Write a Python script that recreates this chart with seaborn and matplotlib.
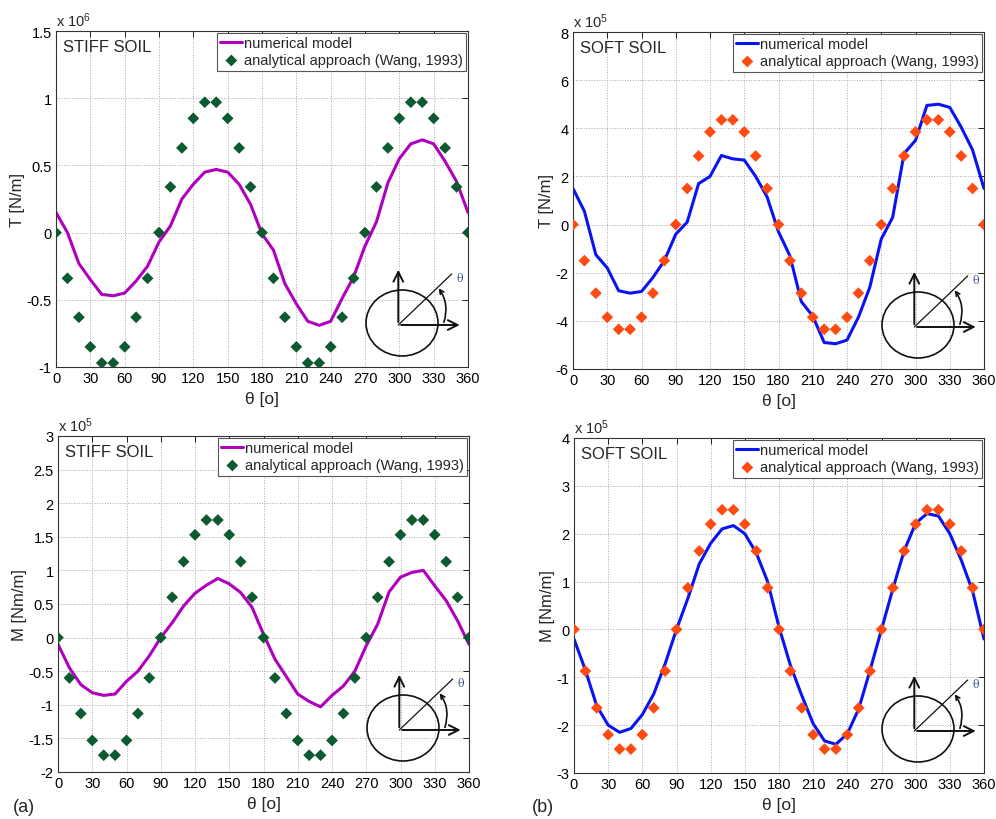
import matplotlib
matplotlib.use('Agg')
import matplotlib.pyplot as plt
import matplotlib.ticker as mticker
from matplotlib.patches import Ellipse, FancyArrowPatch
import seaborn as sns

# ------------------------ data ------------------------ #
theta = [0, 10, 20, 30, 40, 50, 60, 70, 80, 90, 100, 110, 120, 130, 140, 150, 160, 170, 180,
         190, 200, 210, 220, 230, 240, 250, 260, 270, 280, 290, 300, 310, 320, 330, 340, 350, 360]

# stiff soil, thrust T  (x 10^6 N/m)
stiff_T_num = [0.15, 0.0, -0.23, -0.35, -0.46, -0.47, -0.45, -0.36, -0.25, -0.07,
               0.05, 0.25, 0.36, 0.45, 0.47, 0.45, 0.36, 0.21, -0.01, -0.13,
               -0.38, -0.53, -0.66, -0.69, -0.66, -0.49, -0.33, -0.10, 0.08, 0.37,
               0.55, 0.66, 0.69, 0.66, 0.53, 0.38, 0.15]
stiff_T_ana = [0, -0.34, -0.63, -0.85, -0.97, -0.97, -0.85, -0.63, -0.34, 0,
               0.34, 0.63, 0.85, 0.97, 0.97, 0.85, 0.63, 0.34, 0,
               -0.34, -0.63, -0.85, -0.97, -0.97, -0.85, -0.63, -0.34, 0,
               0.34, 0.63, 0.85, 0.97, 0.97, 0.85, 0.63, 0.34, 0]

# soft soil, thrust T  (x 10^5 N/m)
soft_T_num = [1.5, 0.55, -1.25, -1.8, -2.75, -2.85, -2.78, -2.2, -1.5, -0.4,
              0.1, 1.7, 2.0, 2.87, 2.73, 2.68, 2.0, 1.15, -0.3, -1.3,
              -3.2, -3.8, -4.9, -4.95, -4.8, -3.85, -2.6, -0.6, 0.3, 2.95,
              3.5, 4.95, 5.0, 4.87, 4.05, 3.1, 1.5]
soft_T_ana = [0, -1.5, -2.85, -3.85, -4.35, -4.35, -3.85, -2.85, -1.5, 0,
              1.5, 2.85, 3.85, 4.35, 4.35, 3.85, 2.85, 1.5, 0,
              -1.5, -2.85, -3.85, -4.35, -4.35, -3.85, -2.85, -1.5, 0,
              1.5, 2.85, 3.85, 4.35, 4.35, 3.85, 2.85, 1.5, 0]

# stiff soil, moment M  (x 10^5 Nm/m)
stiff_M_num = [-0.1, -0.45, -0.7, -0.82, -0.86, -0.84, -0.65, -0.5, -0.27, 0.0,
               0.22, 0.47, 0.66, 0.78, 0.88, 0.8, 0.67, 0.45, 0.05, -0.32,
               -0.58, -0.84, -0.95, -1.03, -0.86, -0.72, -0.5, -0.12, 0.2, 0.68,
               0.9, 0.97, 1.0, 0.77, 0.55, 0.25, -0.1]
stiff_M_ana = [0, -0.6, -1.13, -1.53, -1.75, -1.75, -1.53, -1.13, -0.6, 0,
               0.6, 1.13, 1.53, 1.75, 1.75, 1.53, 1.13, 0.6, 0,
               -0.6, -1.13, -1.53, -1.75, -1.75, -1.53, -1.13, -0.6, 0,
               0.6, 1.13, 1.53, 1.75, 1.75, 1.53, 1.13, 0.6, 0]

# soft soil, moment M  (x 10^5 Nm/m)
soft_M_num = [-0.2, -0.85, -1.6, -2.0, -2.15, -2.07, -1.78, -1.35, -0.72, 0.0,
              0.65, 1.37, 1.8, 2.1, 2.17, 2.0, 1.6, 1.0, 0.05, -0.75,
              -1.38, -1.97, -2.33, -2.4, -2.18, -1.66, -0.85, 0.0, 0.85, 1.65,
              2.22, 2.42, 2.37, 2.0, 1.45, 0.8, -0.2]
soft_M_ana = [0, -0.87, -1.64, -2.2, -2.5, -2.5, -2.2, -1.64, -0.87, 0,
              0.87, 1.64, 2.2, 2.5, 2.5, 2.2, 1.64, 0.87, 0,
              -0.87, -1.64, -2.2, -2.5, -2.5, -2.2, -1.64, -0.87, 0,
              0.87, 1.64, 2.2, 2.5, 2.5, 2.2, 1.64, 0.87, 0]

x_ticks = [0, 30, 60, 90, 120, 150, 180, 210, 240, 270, 300, 330, 360]

# ------------------------ style ------------------------ #
sns.set_style('white')
plt.rcParams['font.family'] = ['Liberation Sans', 'DejaVu Sans']
plt.rcParams['mathtext.fontset'] = 'custom'
plt.rcParams['mathtext.rm'] = 'Liberation Sans'
plt.rcParams['mathtext.it'] = 'Liberation Sans:italic'
plt.rcParams['axes.unicode_minus'] = False

MAGENTA = '#b000bf'
GREEN = '#0d5a30'
BLUE = '#0a14f2'
ORANGE = '#ff4a12'

W, H = 996, 820
fig = plt.figure(figsize=(W / 100, H / 100), dpi=100)


def px_axes(left, top, right, bottom):
    return fig.add_axes([left / W, 1 - bottom / H, (right - left) / W, (bottom - top) / H])


def draw_inset(ax):
    # little sketch of the tunnel section with the angle theta
    x0, y0, w, h = ax.get_position().bounds
    right_px = (x0 + w) * W
    bottom_px = (1 - y0) * H
    left = right_px - 113
    top = bottom_px - 113
    ins = fig.add_axes([left / W, 1 - (top + 115) / H, 120 / W, 115 / H])
    ins.set_xlim(0, 120)
    ins.set_ylim(115, 0)
    ins.axis('off')
    ins.patch.set_alpha(0)
    ox, oy = 43.3, 71
    ins.add_patch(Ellipse((47, 69), 72, 66, fill=False, lw=1.2, color='#111111'))
    for end in [(43.3, 13.0), (107.5, 71)]:
        ins.annotate('', xy=end, xytext=(ox, oy),
                     arrowprops=dict(arrowstyle='->,head_length=0.7,head_width=0.35', lw=1.4, color='#111111'))
    ins.plot([ox, 96.7], [oy, 20], color='#111111', lw=0.9)
    arc = FancyArrowPatch((88, 71), (82, 32), connectionstyle='arc3,rad=0.28',
                          arrowstyle='->,head_length=3,head_width=1.5', lw=1.2, color='#111111')
    ins.add_patch(arc)
    ins.text(101.5, 24, 'θ', fontsize=8, family='DejaVu Serif', color='#3a5590', va='center', ha='left')


def panel(ax, y_num, y_ana, line_color, mark_color, yticks, ylabel, soil, mult):
    sns.lineplot(x=theta, y=y_num, ax=ax, color=line_color, lw=2.2, label='numerical model',
                 sort=False, estimator=None)
    sns.scatterplot(x=theta, y=y_ana, ax=ax, color=mark_color, marker='D', s=36, edgecolor='none',
                    label='analytical approach (Wang, 1993)', zorder=3)
    ax.set_xlim(0, 360)
    ax.set_ylim(yticks[0], yticks[-1])
    ax.set_xticks(x_ticks)
    ax.set_yticks(yticks)
    ax.yaxis.set_major_formatter(mticker.FormatStrFormatter('%g'))
    ax.grid(True, linestyle=':', color='#a8a8a8', lw=0.7)
    ax.tick_params(direction='in', top=True, right=True, length=4, width=0.6, labelsize=10.5, pad=3,
                   colors='black')
    for s in ax.spines.values():
        s.set_color('#333333')
        s.set_linewidth(0.8)
    ax.set_xlabel('θ [o]', fontsize=12.5, labelpad=4)
    ax.set_ylabel(ylabel, fontsize=12, labelpad=1)
    ax.text(0.017, 0.953, soil, transform=ax.transAxes, fontsize=12, va='center', ha='left')
    ax.text(0.0, 1.006, 'x 10$^{%d}$' % mult, transform=ax.transAxes, fontsize=10.5, va='bottom', ha='left')
    leg = ax.legend(loc='upper right', fontsize=10.5, frameon=True, fancybox=False, framealpha=1,
                    borderaxespad=0.12, borderpad=0.25, labelspacing=0.2, handlelength=1.5,
                    handletextpad=0.1)
    leg.get_frame().set_edgecolor('#555555')
    leg.get_frame().set_linewidth(0.8)
    draw_inset(ax)


ax1 = px_axes(56, 32, 468, 368)
ax2 = px_axes(573, 33, 984, 370)
ax3 = px_axes(58, 437, 469, 773)
ax4 = px_axes(574, 439, 984, 774)

panel(ax1, stiff_T_num, stiff_T_ana, MAGENTA, GREEN, [-1, -0.5, 0, 0.5, 1, 1.5], 'T [N/m]', 'STIFF SOIL', 6)
panel(ax2, soft_T_num, soft_T_ana, BLUE, ORANGE, [-6, -4, -2, 0, 2, 4, 6, 8], 'T [N/m]', 'SOFT SOIL', 5)
panel(ax3, stiff_M_num, stiff_M_ana, MAGENTA, GREEN, [-2, -1.5, -1, -0.5, 0, 0.5, 1, 1.5, 2, 2.5, 3],
      'M [Nm/m]', 'STIFF SOIL', 5)
panel(ax4, soft_M_num, soft_M_ana, BLUE, ORANGE, [-3, -2, -1, 0, 1, 2, 3, 4], 'M [Nm/m]', 'SOFT SOIL', 5)

fig.text(13 / W, 1 - 808 / H, '(a)', fontsize=13, va='center', ha='left')
fig.text(532 / W, 1 - 808 / H, '(b)', fontsize=13, va='center', ha='left')

plt.savefig('out.png', dpi=100)
